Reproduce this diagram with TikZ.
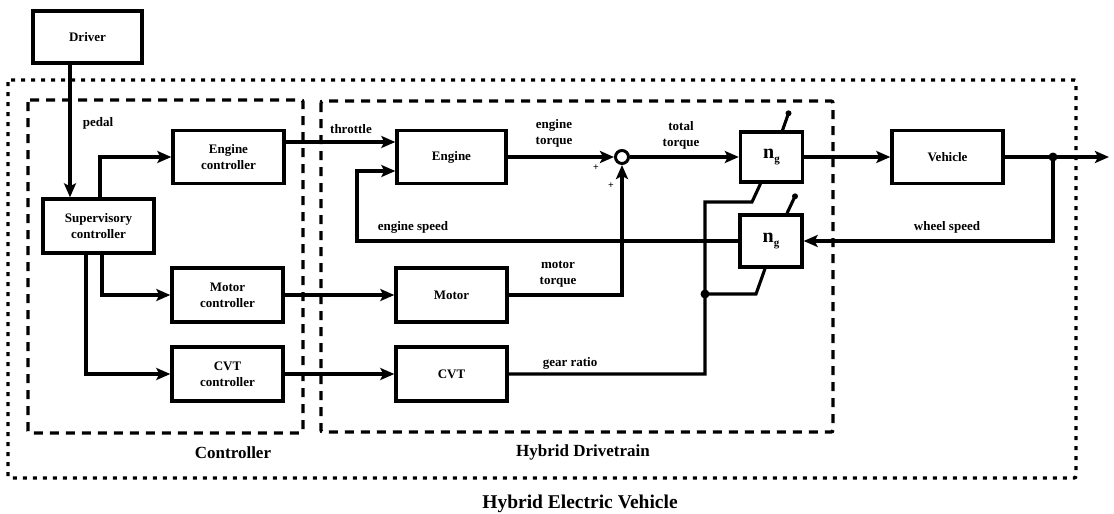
\documentclass[tikz,border=0pt]{standalone}
\usepackage{fontspec}
\setmainfont{Liberation Serif}
\usetikzlibrary{arrows.meta,calc}
\tikzset{
  blk/.style={draw, line width=3.4pt, rectangle, minimum width=111pt, minimum height=53pt, align=center, inner sep=1pt, font=\fontsize{13}{16}\selectfont\bfseries},
  ngblk/.style={draw, line width=3.4pt, rectangle, minimum width=62pt, minimum height=50pt, font=\fontsize{20}{20}\selectfont\bfseries},
  lbl/.style={align=center, inner sep=0pt, font=\fontsize{13}{16}\selectfont\bfseries},
  wire/.style={line width=3.1pt},
  arr/.style={line width=3.1pt, -{Stealth[length=14pt,width=12pt,inset=3pt]}},
  dashbox/.style={line width=3.4pt, dash pattern=on 9pt off 7pt, rounded corners=2pt},
  dotbox/.style={line width=3.4pt, dash pattern=on 4pt off 6pt, rounded corners=2pt},
  jdot/.style={circle, fill, inner sep=0pt, minimum size=9pt},
  sdot/.style={circle, fill, inner sep=0pt, minimum size=6pt},
  title/.style={inner sep=0pt, font=\fontsize{17}{20}\selectfont\bfseries},
}
\begin{document}
\begin{tikzpicture}[x=1pt,y=-1pt]
\useasboundingbox (0,0) rectangle (1114,514);

% frames
\draw[dotbox] (8,80) rectangle (1076,478);
\draw[dashbox] (28,100) rectangle (303,433);
\draw[dashbox] (321,101) rectangle (833,432);
\node[title] (tctrl) at (233,453) {Controller};
\node[title] (tdrive) at (583,452) {Hybrid Drivetrain};
\node[title, font=\fontsize{19.5}{22}\selectfont\bfseries] (thev) at (580,504) {Hybrid Electric Vehicle};

% blocks
\node[blk, minimum width=109pt, minimum height=52pt] (driver) at (87.5,37) {Driver};
\node[blk, minimum height=54pt] (sup) at (98.5,226) {Supervisory\\controller};
\node[blk] (ectl) at (228.5,157) {Engine\\controller};
\node[blk, minimum height=54pt] (mctl) at (227.5,295) {Motor\\controller};
\node[blk, minimum height=54pt] (cctl) at (227.5,374) {CVT\\controller};
\node[blk, minimum width=109pt] (engine) at (451.5,157) {Engine};
\node[blk, minimum height=54pt] (motor) at (451.5,295) {Motor};
\node[blk, minimum height=54pt] (cvt) at (451.5,374) {CVT};
\node[draw, circle, line width=3pt, minimum size=13pt, inner sep=0pt] (sum) at (622,157) {};
\node[ngblk] (ngt) at (771.5,157) {n\raisebox{-4pt}{\fontsize{11}{12}\selectfont g}};
\node[ngblk, minimum height=52pt] (ngb) at (771,241) {n\raisebox{-4pt}{\fontsize{11}{12}\selectfont g}};
\node[blk] (vehicle) at (947.5,157) {Vehicle};

% helper coordinates
\coordinate (pedx) at (70,0);
\coordinate (sex) at (100,0);
\coordinate (smx) at (102,0);
\coordinate (scx) at (86,0);
\coordinate (espx) at (357,0);
\coordinate (g1) at (705,202);
\coordinate (g2) at (752,202);
\coordinate (g3) at (756,294);
\coordinate (outend) at (1109,157);

% connectors
\draw[arr] (driver.south -| pedx) -- (sup.north -| pedx);
\draw[arr] (sup.north -| sex) |- (ectl.west);
\draw[arr] (sup.south -| smx) |- (mctl.west);
\draw[arr] (sup.south -| scx) |- (cctl.west);
\draw[arr] ($(ectl.east)+(0,-15)$) -- ($(engine.west)+(0,-15)$);
\draw[arr] (mctl.east) -- (motor.west);
\draw[arr] (cctl.east) -- (cvt.west);
\draw[arr] (engine.east) -- (sum.west);
\draw[arr] (motor.east) -| (sum.south);
\draw[arr] (sum.east) -- (ngt.west);
\draw[arr] (ngt.east) -- (vehicle.west);
\node[jdot] (jw) at (1053,157) {};
\draw[arr] (vehicle.east) -- (outend);
\draw[arr] (jw.center) |- (ngb.east);
\draw[arr] (ngb.west) -- (espx |- ngb.west) |- ($(engine.west)+(0,14)$);
\node[jdot] (jg) at (705,294) {};
\draw[wire] (cvt.east) -| (jg.center) -- (g1) -- (g2) -- ($(ngt.south)+(-11,0)$);
\draw[wire] (jg.center) -- (g3) -- ($(ngb.south)+(-6,0)$);
\draw[wire] ($(ngt.north)+(11,0)$) -- ++(6,-17) node[sdot] (st1) {};
\draw[wire] ($(ngb.north)+(16,0)$) -- ++(8,-17) node[sdot] (st2) {};

% labels
\node[lbl] (lpedal) at (98,123) {pedal};
\node[lbl] (lthr) at (351,129) {throttle};
\node[lbl] (letq) at (554,133) {engine\\torque};
\node[lbl] (lttq) at (681,135) {total\\torque};
\node[lbl] (lmtq) at (558,274) {motor\\torque};
\node[lbl] (lesp) at (413,227) {engine speed};
\node[lbl] (lwsp) at (947,227) {wheel speed};
\node[lbl] (lgr) at (570,363) {gear ratio};
\node[lbl, font=\fontsize{10}{10}\selectfont\bfseries] (p1) at (596,168) {+};
\node[lbl, font=\fontsize{10}{10}\selectfont\bfseries] (p2) at (611,186) {+};
\end{tikzpicture}
\end{document}
